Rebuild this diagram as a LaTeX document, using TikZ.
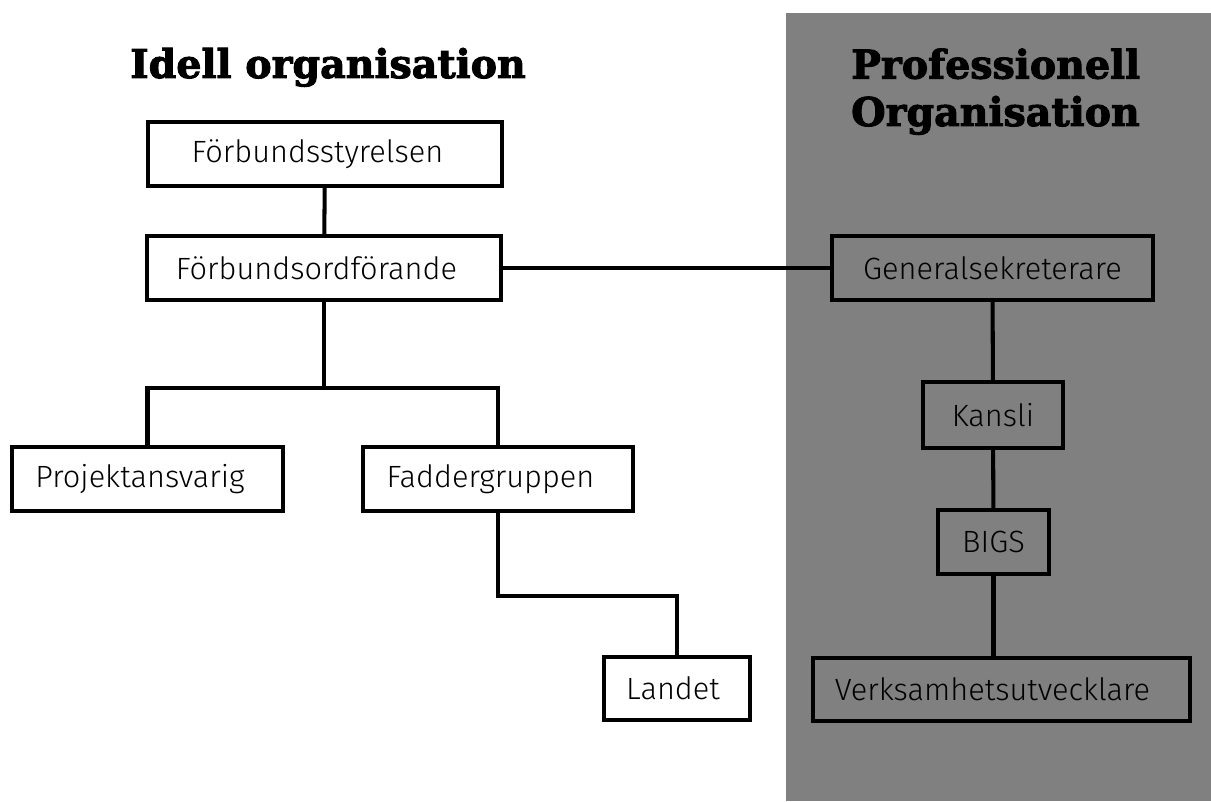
\documentclass[tikz,border=0pt]{standalone}
\usepackage{fontspec}
\setmainfont{Fira Sans}[UprightFont=* Light]
\newfontfamily\titlefont{DejaVu Serif}[BoldFeatures={FakeBold=2.5}]
\usetikzlibrary{positioning}

\definecolor{profgray}{HTML}{808080}

\tikzset{
  pbox/.style={draw, line width=2.3pt, minimum height=1.27cm,
    font=\fontsize{17.5}{20}\selectfont},
  box/.style={pbox, fill=white},
  textpad/.style={execute at end node={\hspace{#1}}},
  link/.style={line width=2.3pt},
  heading/.style={font=\titlefont\bfseries\fontsize{22.5}{27}\selectfont, anchor=base}
}

\begin{document}
\begin{tikzpicture}

            % \draw [help lines] (0,0) grid (24,16);
            \useasboundingbox (0,0) rectangle (24.22,16.02);

            \fill [profgray] (15.72,0) rectangle (24.22,15.76);

            \path   (6.50,12.94) node (styr) [box, minimum width=7.08cm, textpad=0.3cm] {Förbundsstyrelsen}
                    (6.48,10.66) node (ordf) [box, minimum width=7.08cm, textpad=0.3cm] {Förbundsordförande}

                    (2.95,6.44) node (proj) [box, minimum width=5.42cm, textpad=0.3cm] {Projektansvarig}
                    (9.96,6.44) node (fadd) [box, minimum width=5.40cm, textpad=0.3cm] {Faddergruppen}
                    (13.54,2.25) node (landet) [box, minimum width=2.92cm, textpad=0.16cm] {Landet}

                    (19.85,10.66) node (gensek) [pbox, minimum width=6.42cm] {Generalsekreterare}
                    (19.86,7.72) node (kansli) [pbox, minimum width=2.80cm, minimum height=1.32cm] {Kansli}
                    (19.87,5.18) node (bigs) [pbox, minimum width=2.22cm] {BIGS}
                    (20.03,2.23) node (verks) [pbox, minimum width=7.54cm, textpad=0.36cm] {Verksamhetsutvecklare};

            \draw [link] (styr) -- (ordf);
            \draw [link] (ordf) -- (gensek);
            \draw [link] (ordf.south) -- ++(0,-1.72) coordinate (split);
            \draw [link] (proj.north) |- (split) -| (fadd.north);
            \draw [link] (fadd.south) -- ++(0,-1.66) -| (landet.north);

            \draw [link] (gensek) -- (kansli);
            \draw [link] (kansli) -- (bigs);
            \draw [link] (bigs.south) -- (bigs.south |- verks.north);

            \node (idell) [heading] at (6.56,14.46) {Idell organisation};
            \node (prof) [heading, anchor=base west, align=left] at (16.90,13.50)
            {Professionell\\Organisation};

\end{tikzpicture}
\end{document}
